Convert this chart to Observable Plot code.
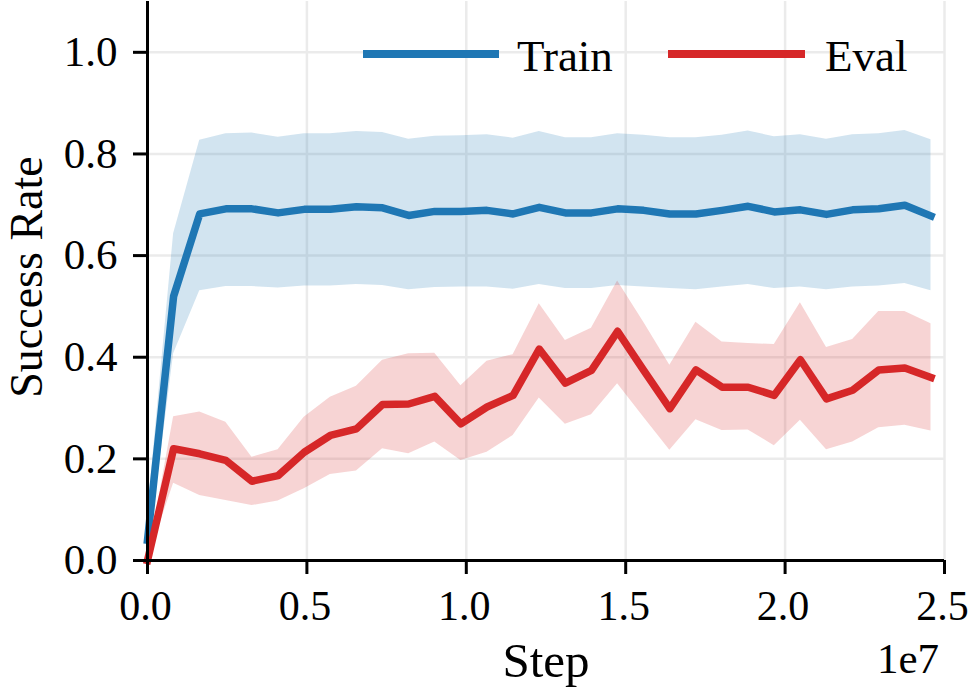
<!DOCTYPE html>
<html>
<head>
<meta charset="utf-8">
<script src="https://cdn.jsdelivr.net/npm/d3@7"></script>
<script src="https://cdn.jsdelivr.net/npm/@observablehq/plot@0.6"></script>
<style>
  html, body { margin: 0; padding: 0; background: white; }
  #wrap { position: relative; width: 970px; height: 692px; }
  #wrap > svg { position: absolute; left: 0; top: 0; }
</style>
</head>
<body>
<div id="wrap"></div>
<script>
// ---- data ----
const steps = [0, 819200, 1638400, 2457600, 3276800, 4096000, 4915200, 5734400, 6553600, 7372800,
  8192000, 9011200, 9830400, 10649600, 11468800, 12288000, 13107200, 13926400, 14745600, 15564800,
  16384000, 17203200, 18022400, 18841600, 19660800, 20480000, 21299200, 22118400, 22937600, 23756800, 24576000];

const trainMean  = [0.04, 0.52, 0.682, 0.692, 0.692, 0.684, 0.691, 0.691, 0.696, 0.694, 0.679, 0.687, 0.687, 0.689, 0.682, 0.695,
  0.684, 0.684, 0.692, 0.689, 0.682, 0.682, 0.689, 0.697, 0.686, 0.690, 0.681, 0.690, 0.692, 0.699, 0.678];
const trainUpper = [0.09, 0.643, 0.827, 0.840, 0.841, 0.833, 0.840, 0.840, 0.844, 0.842, 0.829, 0.835, 0.836, 0.838, 0.831, 0.844,
  0.832, 0.832, 0.840, 0.837, 0.832, 0.832, 0.837, 0.845, 0.834, 0.838, 0.829, 0.838, 0.840, 0.846, 0.828];
const trainLower = [0.0, 0.407, 0.531, 0.539, 0.539, 0.536, 0.540, 0.540, 0.543, 0.541, 0.533, 0.537, 0.538, 0.538, 0.534, 0.543,
  0.535, 0.535, 0.541, 0.538, 0.535, 0.533, 0.538, 0.543, 0.535, 0.538, 0.533, 0.538, 0.540, 0.545, 0.531];

const evalMean  = [0, 0.220, 0.210, 0.197, 0.156, 0.167, 0.213, 0.246, 0.259, 0.307, 0.308, 0.323, 0.269, 0.302, 0.325, 0.416,
  0.349, 0.374, 0.451, 0.374, 0.299, 0.375, 0.341, 0.341, 0.325, 0.395, 0.318, 0.335, 0.375, 0.379, 0.360];
const evalUpper = [0, 0.283, 0.292, 0.272, 0.203, 0.218, 0.282, 0.321, 0.343, 0.394, 0.407, 0.408, 0.344, 0.392, 0.405, 0.505,
  0.433, 0.457, 0.550, 0.469, 0.384, 0.469, 0.430, 0.427, 0.425, 0.507, 0.419, 0.435, 0.490, 0.490, 0.466];
const evalLower = [0, 0.152, 0.128, 0.118, 0.108, 0.117, 0.141, 0.169, 0.176, 0.220, 0.210, 0.233, 0.197, 0.213, 0.246, 0.320,
  0.268, 0.287, 0.348, 0.282, 0.217, 0.277, 0.256, 0.257, 0.226, 0.276, 0.218, 0.233, 0.261, 0.266, 0.255];

const xTicks = [0, 5000000, 10000000, 15000000, 20000000, 25000000];
const xTickLabels = ["0.0", "0.5", "1.0", "1.5", "2.0", "2.5"];
const yTicks = [0, 0.2, 0.4, 0.6, 0.8, 1.0];
const yTickLabels = ["0.0", "0.2", "0.4", "0.6", "0.8", "1.0"];

const seriesNames = ["Train", "Eval"];
const seriesColors = ["#1f77b4", "#d62728"];

// ---- table built from the arrays ----
const rows = steps.map((s, i) => ({
  step: s,
  trainMean: trainMean[i], trainLower: trainLower[i], trainUpper: trainUpper[i],
  evalMean: evalMean[i], evalLower: evalLower[i], evalUpper: evalUpper[i]
}));

const FONT = "'Liberation Serif', 'Times New Roman', serif";
const W = 970, H = 692;
const M = {left: 147, right: 26, top: 1, bottom: 132};

const chart = Plot.plot({
  width: W,
  height: H,
  marginLeft: M.left,
  marginRight: M.right,
  marginTop: M.top,
  marginBottom: M.bottom,
  x: {domain: [0, 25000000]},
  y: {domain: [0, 1.1]},
  style: {fontFamily: FONT, background: "white", overflow: "visible", color: "black"},
  marks: [
    Plot.gridX(xTicks, {stroke: "#ebebeb", strokeOpacity: 1, strokeWidth: 2.5}),
    Plot.gridY(yTicks, {stroke: "#ebebeb", strokeOpacity: 1, strokeWidth: 2.5}),
    Plot.areaY(rows, {x: "step", y1: "trainLower", y2: "trainUpper", fill: seriesColors[0], fillOpacity: 0.2}),
    Plot.areaY(rows, {x: "step", y1: "evalLower", y2: "evalUpper", fill: seriesColors[1], fillOpacity: 0.2}),
    Plot.lineY(rows, {x: "step", y: "trainMean", stroke: seriesColors[0], strokeWidth: 7.5,
      strokeLinejoin: "round", strokeLinecap: "square"}),
    Plot.lineY(rows, {x: "step", y: "evalMean", stroke: seriesColors[1], strokeWidth: 7.5,
      strokeLinejoin: "round", strokeLinecap: "square"}),
    Plot.axisX({ticks: xTicks, tickFormat: (d, i) => xTickLabels[i], tickSize: 14, tickPadding: 16,
      fontSize: 42, strokeWidth: 3, label: null, textStroke: "none"}),
    Plot.axisY({ticks: yTicks, tickFormat: (d, i) => yTickLabels[i], tickSize: 14, tickPadding: 16,
      fontSize: 43, strokeWidth: 3, label: null}),
    Plot.ruleX([0], {strokeWidth: 3, stroke: "black"}),
    Plot.ruleY([0], {strokeWidth: 3, stroke: "black"})
  ]
});

const wrap = document.getElementById("wrap");
wrap.appendChild(chart);

// nudge x tick labels 2px left so the last one stays inside the picture
d3.select(chart).selectAll("g[aria-label='x-axis tick label'] text").attr("dx", -2);

// ---- overlay: axis labels, offset text and legend ----
const ov = d3.select(wrap).append("svg")
  .attr("width", W).attr("height", H)
  .style("font-family", FONT)
  .style("pointer-events", "none");

ov.append("text")
  .attr("transform", "translate(42,277) rotate(-90)")
  .attr("text-anchor", "middle")
  .attr("font-size", 46)
  .text("Success Rate");

ov.append("text")
  .attr("x", 546).attr("y", 677)
  .attr("text-anchor", "middle")
  .attr("font-size", 49)
  .text("Step");

ov.append("text")
  .attr("x", 939).attr("y", 673)
  .attr("text-anchor", "end")
  .attr("font-size", 43)
  .text("1e7");

const legendItems = [
  {x1: 363, x2: 499, tx: 517},
  {x1: 668, x2: 805, tx: 825}
];
legendItems.forEach((it, i) => {
  ov.append("line")
    .attr("x1", it.x1).attr("x2", it.x2).attr("y1", 54).attr("y2", 54)
    .attr("stroke", seriesColors[i]).attr("stroke-width", 8);
  ov.append("text")
    .attr("x", it.tx).attr("y", 71)
    .attr("font-size", 45)
    .text(seriesNames[i]);
});
</script>
</body>
</html>
